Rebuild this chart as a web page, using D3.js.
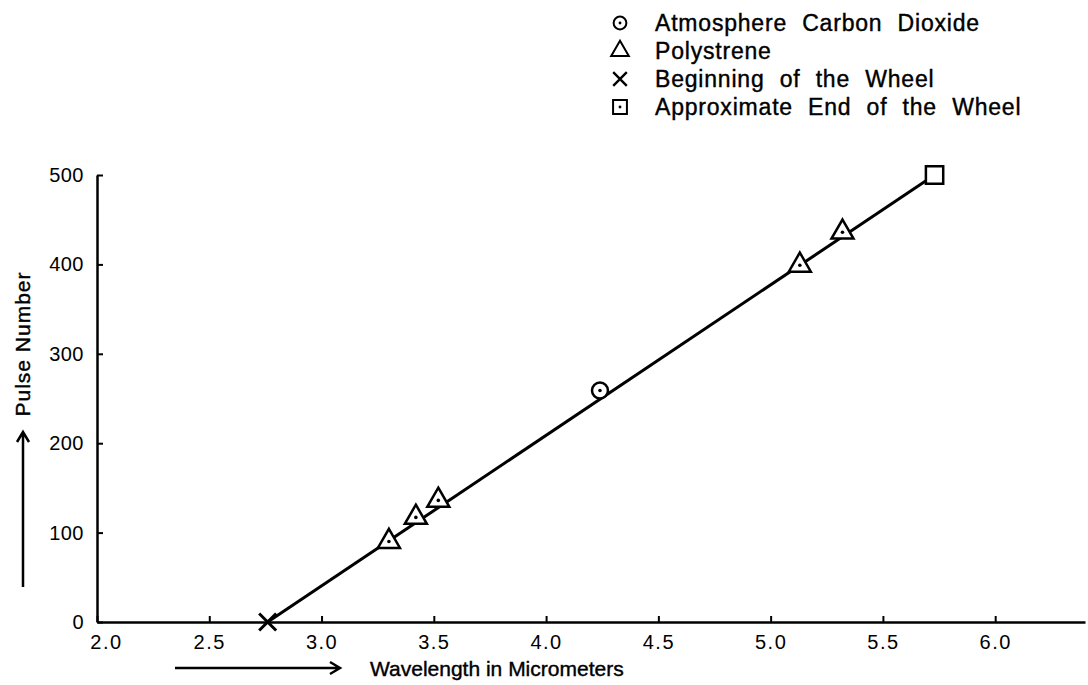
<!DOCTYPE html>
<html lang="en">
    <head>
        <meta charset="utf-8">
        <title>Pulse Number vs Wavelength</title>
        <script src="https://cdn.jsdelivr.net/npm/d3@7/dist/d3.min.js" charset="utf-8"></script>
        <style type="text/css">
            body {
                margin: 0;
                background: #fff;
            }
            #chart text {
                font-family: "Liberation Sans", Arial, sans-serif;
                fill: #000;
            }
        </style>
    </head>
    <body>
        <div id="chart"></div>
        <script>
            // Datos
            var wavelength = [2.76, 3.30, 3.42, 3.52, 4.24, 5.13, 5.32, 5.73];
            var pulse = [0, 90, 117, 136, 259, 399, 436, 500];
            var kind = ["beginning", "polystyrene", "polystyrene", "polystyrene",
                        "co2", "polystyrene", "polystyrene", "end"];

            // recta ajustada (extremos)
            var fitWavelength = [2.76, 5.73];
            var fitPulse = [0, 500];

            var xTicks = [2.0, 2.5, 3.0, 3.5, 4.0, 4.5, 5.0, 5.5, 6.0];
            var yTicks = [0, 100, 200, 300, 400, 500];

            var legendKinds = ["co2", "polystyrene", "beginning", "end"];
            var legendLabels = ["Atmosphere Carbon Dioxide", "Polystrene",
                                "Beginning of the Wheel", "Approximate End of the Wheel"];

            var points = wavelength.map(function(w, i) {
                return {w: w, p: pulse[i], kind: kind[i]};
            });
            var fit = fitWavelength.map(function(w, i) {
                return {w: w, p: fitPulse[i]};
            });

            var W = 1088, H = 685;
            var margin = {top: 175, right: 3, bottom: 63, left: 97};
            var width = W - margin.left - margin.right,
                height = H - margin.top - margin.bottom;

            var root = d3.select("#chart").append("svg")
                .attr("width", W)
                .attr("height", H);

            var svg = root.append("g")
                .attr("transform", "translate(" + margin.left + "," + margin.top + ")");

            // Escalas
            var x = d3.scaleLinear().domain([2.0, 6.4]).range([0, width]);
            var y = d3.scaleLinear().domain([0, 500]).range([height, 0]);

            // Eje x
            var xAxis = d3.axisBottom(x)
                .tickValues(xTicks)
                .tickFormat(d3.format(".1f"))
                .tickSizeInner(-6)
                .tickSizeOuter(0)
                .tickPadding(13);

            var gx = svg.append("g")
                .attr("transform", "translate(0," + height + ")")
                .call(xAxis);
            gx.select(".domain").attr("stroke-width", 2.5);
            gx.selectAll(".tick line").attr("stroke-width", 2);
            gx.selectAll(".tick text")
                .attr("font-size", 20)
                .attr("letter-spacing", 1.5)
                .attr("dy", "0.72em");
            // la etiqueta 2.0 queda algo corrida a la derecha del origen
            gx.selectAll(".tick text").filter(function(d) { return d === 2.0; })
                .attr("dx", 9);

            // Eje y
            var yAxis = d3.axisLeft(y)
                .tickValues(yTicks)
                .tickSizeInner(-6)
                .tickSizeOuter(0)
                .tickPadding(13);

            var gy = svg.append("g").call(yAxis);
            gy.select(".domain").attr("stroke-width", 2.5);
            gy.selectAll(".tick line").attr("stroke-width", 2);
            gy.selectAll(".tick text")
                .attr("font-size", 20)
                .attr("letter-spacing", 0.5);

            // Recta
            var line = d3.line()
                .x(function(d) { return x(d.w); })
                .y(function(d) { return y(d.p); });

            svg.append("path")
                .datum(fit)
                .attr("d", line)
                .attr("fill", "none")
                .attr("stroke", "#000")
                .attr("stroke-width", 3);

            // Simbolos
            var symbolType = {
                co2: d3.symbolCircle,
                polystyrene: d3.symbolTriangle,
                beginning: d3.symbolTimes,
                end: d3.symbolSquare
            };
            var symbolSize = {co2: 200, polystyrene: 210, beginning: 190, end: 300};

            function drawMarker(g, k, inLegend) {
                g.append("path")
                    .attr("d", d3.symbol().type(symbolType[k]).size(symbolSize[k])())
                    .attr("fill", k === "beginning" ? "none" : "#fff")
                    .attr("stroke", "#000")
                    .attr("stroke-width", k === "beginning" ? 3 : 2.5);
                var dot = inLegend ? (k === "co2" || k === "end")
                                   : (k === "co2" || k === "polystyrene");
                if (dot) {
                    g.append("circle")
                        .attr("r", 1.8)
                        .attr("fill", "#000");
                }
            }

            svg.selectAll(".punto")
                .data(points)
                .enter()
                .append("g")
                .attr("class", "punto")
                .attr("transform", function(d) {
                    return "translate(" + x(d.w) + "," + y(d.p) + ")";
                })
                .each(function(d) { drawMarker(d3.select(this), d.kind, false); });

            // Leyenda
            var leyenda = root.selectAll(".leyenda")
                .data(legendKinds)
                .enter()
                .append("g")
                .attr("class", "leyenda")
                .attr("transform", function(d, i) {
                    return "translate(620," + (23 + i * 28) + ")";
                });

            leyenda.each(function(d) {
                var g = d3.select(this).append("g").attr("transform", "scale(0.8)");
                drawMarker(g, d, true);
            });

            leyenda.append("text")
                .attr("x", 35)
                .attr("dy", "0.36em")
                .attr("font-size", 23)
                .attr("letter-spacing", 0.8)
                .attr("word-spacing", 8)
                .attr("stroke", "#000")
                .attr("stroke-width", 0.4)
                .text(function(d, i) { return legendLabels[i]; });

            // Titulos de ejes con flechas
            var arrowColor = "#000";

            root.append("text")
                .attr("x", 370)
                .attr("y", 676)
                .attr("font-size", 21)
                .attr("stroke", "#000")
                .attr("stroke-width", 0.4)
                .text("Wavelength in Micrometers");

            root.append("path")
                .attr("d", "M175,668H339M330,662L340,668L330,674")
                .attr("fill", "none")
                .attr("stroke", arrowColor)
                .attr("stroke-width", 2.5);

            root.append("text")
                .attr("transform", "translate(30,344) rotate(-90)")
                .attr("text-anchor", "middle")
                .attr("font-size", 21)
                .attr("letter-spacing", 1)
                .attr("stroke", "#000")
                .attr("stroke-width", 0.4)
                .text("Pulse Number");

            root.append("path")
                .attr("d", "M23,587V433M17,442L23,432L29,442")
                .attr("fill", "none")
                .attr("stroke", arrowColor)
                .attr("stroke-width", 2.5);
        </script>
    </body>
</html>
